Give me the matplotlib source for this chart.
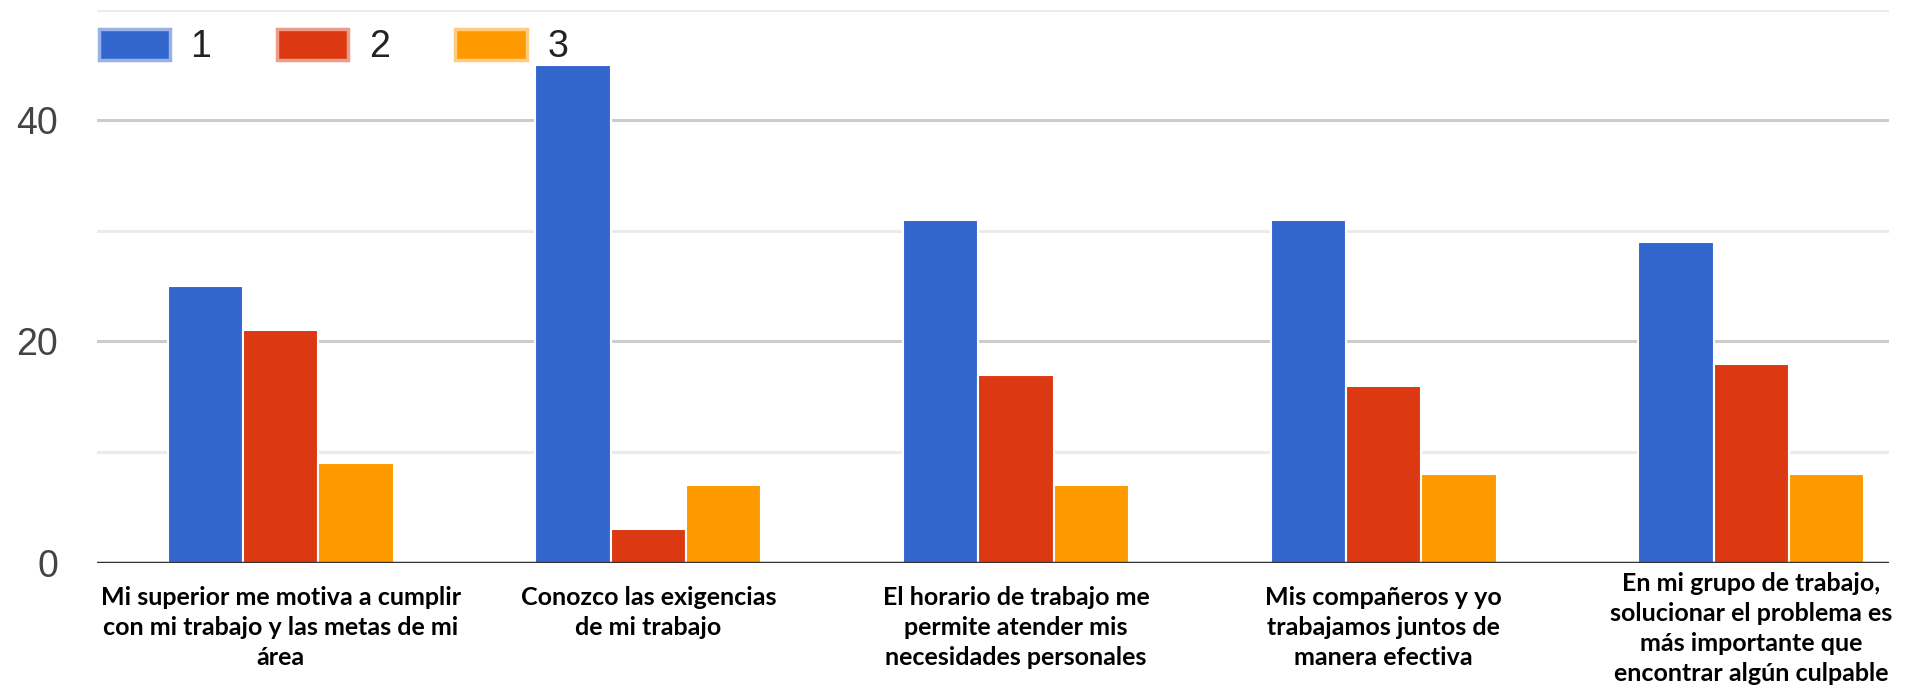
import numpy as np
import matplotlib.pyplot as plt
from matplotlib.patches import Patch
import matplotlib.transforms as mtransforms

# Survey answers per statement, one list per answer value
categories = [
    "Mi superior me motiva a cumplir\ncon mi trabajo y las metas de mi\nárea",
    "Conozco las exigencias\nde mi trabajo",
    "El horario de trabajo me\npermite atender mis\nnecesidades personales",
    "Mis compañeros y yo\ntrabajamos juntos de\nmanera efectiva",
    "En mi grupo de trabajo,\nsolucionar el problema es\nmás importante que\nencontrar algún culpable",
]
series_names = ["1", "2", "3"]
values_1 = [25, 45, 31, 31, 29]
values_2 = [21, 3, 17, 16, 18]
values_3 = [9, 7, 7, 8, 8]

colors = ["#3366cc", "#dc3912", "#ff9900"]
edge_colors = ["#99b2e5", "#ed9c88", "#ffcc7f"]

fig = plt.figure(figsize=(19.13, 6.93), dpi=100)
ax = fig.add_axes([0.0507, 0.1883, 0.9368, 0.7973])

x = np.arange(len(categories))
width = 0.205
for i, vals in enumerate([values_1, values_2, values_3]):
    ax.bar(x + (i - 1) * width, vals, width, color=colors[i],
           edgecolor="white", linewidth=1.5, zorder=3)

ax.set_xlim(-0.5, 4.375)
ax.set_ylim(0, 50)

# gridlines: dark-ish at 20/40, light at 10/30/50
ax.set_yticks([0, 20, 40])
ax.set_yticks([10, 30, 50], minor=True)
ax.grid(axis="y", which="major", color="#cccccc", linewidth=2.2, zorder=0)
ax.grid(axis="y", which="minor", color="#ebebeb", linewidth=2.2, zorder=0)
ax.axhline(0, color="#333333", linewidth=2.5, zorder=4)
for s in ax.spines.values():
    s.set_visible(False)

ax.tick_params(axis="y", which="both", length=0, pad=28, labelsize=27,
               labelcolor="#444444")
for lbl in ax.get_yticklabels():
    lbl.set_family("Liberation Sans")

ax.set_xticks(x)
ax.set_xticklabels(categories, fontsize=18, fontweight="bold", family="Lato",
                   linespacing=1.36, va="top")
ax.tick_params(axis="x", length=0, pad=17)
# the 4-line label sits a little higher so it fits
for lbl in ax.get_xticklabels():
    if lbl.get_text().count("\n") >= 3:
        lbl.set_transform(lbl.get_transform() +
                          mtransforms.ScaledTranslation(0, 10 / 72, fig.dpi_scale_trans))

handles = [Patch(facecolor=colors[i], edgecolor=edge_colors[i], linewidth=2.5)
           for i in range(3)]
leg = ax.legend(handles, series_names, loc="center left",
                bbox_to_anchor=(0.0515, 0.932), bbox_transform=fig.transFigure,
                ncol=3, frameon=False, fontsize=27, handlelength=1.9,
                handleheight=0.92, handletextpad=0.55, columnspacing=1.75,
                borderaxespad=0, borderpad=0)
for t in leg.get_texts():
    t.set_color("#222222")
    t.set_family("Liberation Sans")

fig.savefig("out.png", dpi=100)
